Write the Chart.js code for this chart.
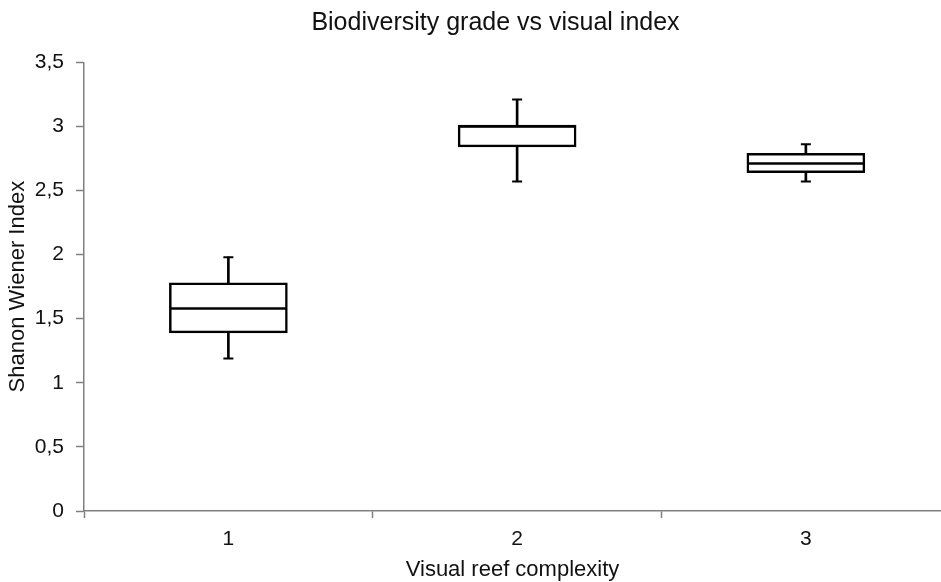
<!DOCTYPE html>
<html lang="en">
<head>
    <meta charset="UTF-8">
    <title>Biodiversity grade vs visual index</title>
    <script src="https://cdn.jsdelivr.net/npm/chart.js"></script>
    <style>
        body {
            margin: 0;
            padding: 0;
            background-color: #ffffff;
        }
        #chart-container {
            width: 941px;
            height: 582px;
        }
    </style>
</head>
<body>
    <div id="chart-container">
        <canvas id="box-chart"></canvas>
    </div>

    <script>
        // categories and box statistics
        const categories = [1, 2, 3];
        const categoryLabels = ['1', '2', '3'];
        const minValues = [1.19, 2.57, 2.57];
        const q1Values = [1.39, 2.84, 2.64];
        const medianValues = [1.58, 3.00, 2.71];
        const q3Values = [1.78, 3.01, 2.79];
        const maxValues = [1.98, 3.21, 2.86];

        const font = "'Liberation Sans', Arial, sans-serif";
        const textColor = '#111111';
        const axisColor = '#808080';

        const boxData = categories.map((c, i) => ({ x: c, y: [q1Values[i], q3Values[i]] }));
        const upperWhisker = categories.map((c, i) => ({ x: c, y: [q3Values[i], maxValues[i]] }));
        const lowerWhisker = categories.map((c, i) => ({ x: c, y: [minValues[i], q1Values[i]] }));
        const caps = categories.flatMap((c, i) => [{ x: c, y: maxValues[i] }, { x: c, y: minValues[i] }]);
        const medians = categories.map((c, i) => ({ x: c, y: medianValues[i] }));

        // the title in the original sits a bit right of the canvas centre
        const shiftTitle = {
            id: 'shiftTitle',
            afterLayout(chart) {
                if (chart.titleBlock) chart.titleBlock.left = 50;
            }
        };

        const ctx = document.getElementById('box-chart').getContext('2d');
        new Chart(ctx, {
            data: {
                datasets: [
                    {
                        type: 'bar',
                        data: upperWhisker,
                        backgroundColor: '#000000',
                        borderWidth: 0,
                        barThickness: 2,
                        grouped: false,
                        order: 3
                    },
                    {
                        type: 'bar',
                        data: lowerWhisker,
                        backgroundColor: '#000000',
                        borderWidth: 0,
                        barThickness: 2,
                        grouped: false,
                        order: 3
                    },
                    {
                        type: 'bar',
                        data: boxData,
                        backgroundColor: '#ffffff',
                        borderColor: '#000000',
                        borderWidth: 2.5,
                        borderSkipped: false,
                        barThickness: 118,
                        grouped: false,
                        order: 2
                    },
                    {
                        type: 'scatter',
                        data: caps,
                        pointStyle: 'line',
                        pointRadius: 5,
                        borderColor: '#000000',
                        borderWidth: 2,
                        order: 1
                    },
                    {
                        type: 'scatter',
                        data: medians,
                        pointStyle: 'line',
                        pointRadius: 58,
                        borderColor: '#000000',
                        borderWidth: 2.5,
                        order: 0
                    }
                ]
            },
            plugins: [shiftTitle],
            options: {
                responsive: true,
                maintainAspectRatio: false,
                animation: false,
                events: [],
                layout: {
                    autoPadding: false,
                    padding: 0
                },
                plugins: {
                    legend: { display: false },
                    tooltip: { enabled: false },
                    title: {
                        display: true,
                        text: 'Biodiversity grade vs visual index',
                        color: textColor,
                        font: { family: font, size: 25, weight: 'normal' },
                        padding: { top: 8.5, bottom: 23.8 }
                    }
                },
                scales: {
                    x: {
                        type: 'linear',
                        min: 0.5,
                        max: 3.468,
                        offset: false,
                        afterBuildTicks: scale => {
                            scale.ticks = [0.5, 1, 1.5, 2, 2.5, 3].map(v => ({ value: v }));
                        },
                        afterFit: scale => {
                            scale.height = 71;
                            scale.paddingLeft = 0;
                            scale.paddingRight = 0;
                        },
                        border: { color: axisColor, width: 1.5 },
                        grid: {
                            offset: false,
                            drawOnChartArea: false,
                            tickLength: 7,
                            tickWidth: 1.5,
                            color: c => (c.tick && Number.isInteger(c.tick.value)) ? 'rgba(0,0,0,0)' : axisColor
                        },
                        ticks: {
                            color: textColor,
                            padding: 9,
                            font: { family: font, size: 21 },
                            maxRotation: 0,
                            callback: v => {
                                const i = categories.indexOf(v);
                                return i >= 0 ? categoryLabels[i] : '';
                            }
                        },
                        title: {
                            display: true,
                            text: 'Visual reef complexity',
                            color: textColor,
                            font: { family: font, size: 22, lineHeight: 1 },
                            padding: { top: 0, bottom: 1.5 }
                        }
                    },
                    y: {
                        min: 0,
                        max: 3.5,
                        afterFit: scale => { scale.width = 84; },
                        border: { color: axisColor, width: 1.5 },
                        grid: {
                            drawOnChartArea: false,
                            tickLength: 8,
                            tickWidth: 1.5,
                            color: axisColor
                        },
                        ticks: {
                            stepSize: 0.5,
                            color: textColor,
                            padding: 12,
                            font: { family: font, size: 21 },
                            callback: v => v.toString().replace('.', ',')
                        },
                        title: {
                            display: true,
                            text: 'Shanon Wiener Index',
                            color: textColor,
                            font: { family: font, size: 22 },
                            padding: { top: 5, bottom: 0 }
                        }
                    }
                }
            }
        });
    </script>
</body>
</html>
